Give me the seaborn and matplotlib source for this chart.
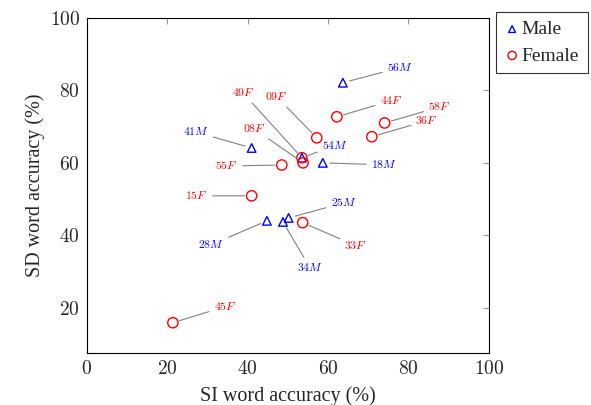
import numpy as np
import pandas as pd
from matplotlib import pyplot as plt
from matplotlib.ticker import FuncFormatter
import seaborn as sns

sns.set_style('white')
plt.rcParams['font.family'] = ['Liberation Serif', 'DejaVu Serif']
plt.rcParams['mathtext.fontset'] = 'cm'

# speakers, word accuracy on SI (x) and SD (y)
male_ids = ['56', '41', '54', '18', '25', '34', '28']
male_si = [63.7, 41.0, 53.5, 58.7, 50.2, 48.8, 44.8]
male_sd = [82.1, 64.1, 61.4, 60.0, 44.8, 43.7, 44.0]

female_ids = ['44', '58', '36', '09', '49', '08', '55', '15', '33', '45']
female_si = [62.2, 74.1, 70.9, 57.2, 53.5, 53.8, 48.5, 41.0, 53.7, 21.4]
female_sd = [72.7, 71.0, 67.2, 66.9, 61.4, 60.0, 59.4, 50.9, 43.5, 15.9]

# label offsets in pixels (dx, dy)
male_off = [(57, 15), (-56, 16), (33, 12), (61, -2), (55, 15), (27, -46), (-56, -24)]
female_off = [(54, 16), (55, 16), (55, 16), (-40, 41), (-59, 65), (-49, 34),
              (-55, -1), (-55, 0), (53, -23), (52, 16)]

male = pd.DataFrame({'si': male_si, 'sd': male_sd})
female = pd.DataFrame({'si': female_si, 'sd': female_sd})

fig, ax = plt.subplots(figsize=(5.91, 4.05), dpi=100)
fig.subplots_adjust(left=0.147, right=0.827, bottom=0.128, top=0.956)

sns.scatterplot(data=male, x='si', y='sd', marker='^', s=38, facecolor='none',
                edgecolor='blue', linewidth=1, label='Male', ax=ax, zorder=3)
sns.scatterplot(data=female, x='si', y='sd', marker='o', s=55, facecolor='none',
                edgecolor='red', linewidth=1, label='Female', ax=ax, zorder=3)

def add_labels(ids, xs, ys, offs, letter, color):
    for i, x, y, off in zip(ids, xs, ys, offs):
        ax.annotate(r'$%s%s$' % (i, letter), xy=(x, y), xytext=off,
                    textcoords='offset pixels', ha='center', va='center',
                    fontsize=8.5, color=color,
                    arrowprops=dict(arrowstyle='-', color='gray', lw=0.8,
                                    shrinkA=1, shrinkB=5))

add_labels(male_ids, male_si, male_sd, male_off, 'M', 'blue')
add_labels(female_ids, female_si, female_sd, female_off, 'F', 'red')

ax.set_xlim(0, 100)
ax.set_ylim(7.5, 100)
ax.set_xticks([0, 20, 40, 60, 80, 100])
ax.set_yticks([20, 40, 60, 80, 100])
fmt = FuncFormatter(lambda v, p: r'$%d$' % v)
ax.xaxis.set_major_formatter(fmt)
ax.yaxis.set_major_formatter(fmt)
ax.tick_params(direction='in', top=True, right=True, labelsize=14, length=4,
               width=0.6, color='gray', pad=5)
for sp in ax.spines.values():
    sp.set_color('black')
    sp.set_linewidth(0.8)
ax.set_xlabel('SI word accuracy (%)', fontsize=14.5, labelpad=6)
ax.set_ylabel('SD word accuracy (%)', fontsize=14.5, labelpad=3)

leg = ax.legend(loc='upper left', bbox_to_anchor=(1.017, 1.018), borderaxespad=0,
                fontsize=14, frameon=True, fancybox=False, handletextpad=0.1,
                handlelength=0.8, borderpad=0.45, labelspacing=0.45,
                markerscale=0.8)
leg.get_frame().set_edgecolor('black')
leg.get_frame().set_linewidth(0.8)

plt.savefig('out.png')
